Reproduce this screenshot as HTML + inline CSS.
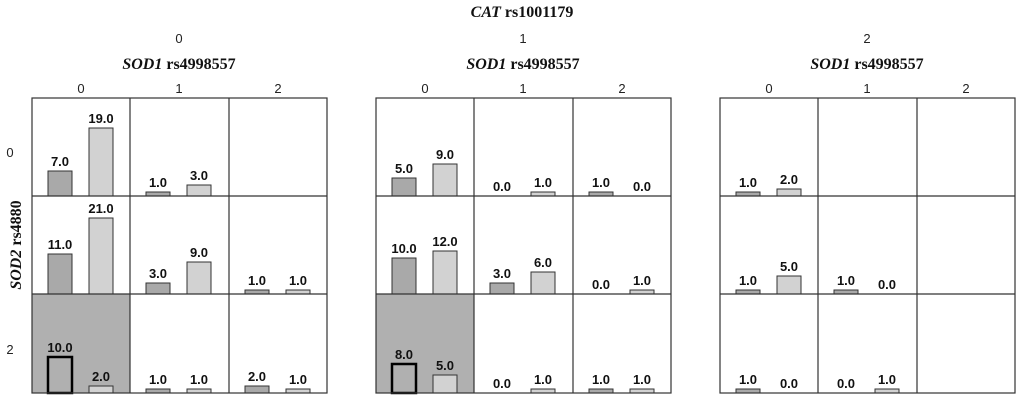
<!DOCTYPE html><html><head><meta charset="utf-8"><style>
body{margin:0;background:#fff}
svg{display:block}
.v{font:bold 13px "Liberation Sans",sans-serif;text-anchor:middle;fill:#111}
.t{font:13px "Liberation Sans",sans-serif;text-anchor:middle;fill:#222}
.h{font:bold 16px "Liberation Serif",serif;text-anchor:middle;fill:#111}
.d{fill:#a9a9a9;stroke:#333;stroke-width:1}
.l{fill:#d2d2d2;stroke:#333;stroke-width:1}
.k{fill:#b0b0b0;stroke:#000;stroke-width:2.5}
.g{fill:none;stroke:#333;stroke-width:1.2}
</style></head><body>
<svg width="1024" height="406" xmlns="http://www.w3.org/2000/svg">
<text class="h" x="522" y="17"><tspan font-style="italic">CAT</tspan> rs1001179</text>
<text class="t" x="179" y="43">0</text><text class="t" x="523" y="43">1</text><text class="t" x="867" y="43">2</text>
<text class="h" x="179" y="69"><tspan font-style="italic">SOD1</tspan> rs4998557</text>
<text class="h" x="523" y="69"><tspan font-style="italic">SOD1</tspan> rs4998557</text>
<text class="h" x="867" y="69"><tspan font-style="italic">SOD1</tspan> rs4998557</text>
<g class="t">
<text x="81" y="93">0</text><text x="179" y="93">1</text><text x="278" y="93">2</text>
<text x="425" y="93">0</text><text x="523" y="93">1</text><text x="622" y="93">2</text>
<text x="769" y="93">0</text><text x="867" y="93">1</text><text x="966" y="93">2</text>
<text x="10" y="157">0</text><text x="10" y="354">2</text>
</g>
<text class="h" transform="translate(21,245) rotate(-90)"><tspan font-style="italic">SOD2</tspan> rs4880</text>
<rect x="32" y="294" width="98" height="99" fill="#b0b0b0"/>
<rect x="376" y="294" width="98" height="99" fill="#b0b0b0"/>
<!-- P0 -->
<rect class="d" x="48" y="171" width="24" height="25"/><text class="v" x="60" y="166">7.0</text>
<rect class="l" x="89" y="128" width="24" height="68"/><text class="v" x="101" y="123">19.0</text>
<rect class="d" x="146" y="192" width="24" height="4"/><text class="v" x="158" y="187">1.0</text>
<rect class="l" x="187" y="185" width="24" height="11"/><text class="v" x="199" y="180">3.0</text>
<rect class="d" x="48" y="254" width="24" height="40"/><text class="v" x="60" y="249">11.0</text>
<rect class="l" x="89" y="218" width="24" height="76"/><text class="v" x="101" y="213">21.0</text>
<rect class="d" x="146" y="283" width="24" height="11"/><text class="v" x="158" y="278">3.0</text>
<rect class="l" x="187" y="262" width="24" height="32"/><text class="v" x="199" y="257">9.0</text>
<rect class="d" x="245" y="290" width="24" height="4"/><text class="v" x="257" y="285">1.0</text>
<rect class="l" x="286" y="290" width="24" height="4"/><text class="v" x="298" y="285">1.0</text>
<rect class="k" x="48" y="357" width="24" height="36"/><text class="v" x="60" y="352">10.0</text>
<rect class="l" x="89" y="386" width="24" height="7"/><text class="v" x="101" y="381">2.0</text>
<rect class="d" x="146" y="389" width="24" height="4"/><text class="v" x="158" y="384">1.0</text>
<rect class="l" x="187" y="389" width="24" height="4"/><text class="v" x="199" y="384">1.0</text>
<rect class="d" x="245" y="386" width="24" height="7"/><text class="v" x="257" y="381">2.0</text>
<rect class="l" x="286" y="389" width="24" height="4"/><text class="v" x="298" y="384">1.0</text>
<!-- P1 -->
<rect class="d" x="392" y="178" width="24" height="18"/><text class="v" x="404" y="173">5.0</text>
<rect class="l" x="433" y="164" width="24" height="32"/><text class="v" x="445" y="159">9.0</text>
<text class="v" x="502" y="191">0.0</text>
<rect class="l" x="531" y="192" width="24" height="4"/><text class="v" x="543" y="187">1.0</text>
<rect class="d" x="589" y="192" width="24" height="4"/><text class="v" x="601" y="187">1.0</text>
<text class="v" x="642" y="191">0.0</text>
<rect class="d" x="392" y="258" width="24" height="36"/><text class="v" x="404" y="253">10.0</text>
<rect class="l" x="433" y="251" width="24" height="43"/><text class="v" x="445" y="246">12.0</text>
<rect class="d" x="490" y="283" width="24" height="11"/><text class="v" x="502" y="278">3.0</text>
<rect class="l" x="531" y="272" width="24" height="22"/><text class="v" x="543" y="267">6.0</text>
<text class="v" x="601" y="289">0.0</text>
<rect class="l" x="630" y="290" width="24" height="4"/><text class="v" x="642" y="285">1.0</text>
<rect class="k" x="392" y="364" width="24" height="29"/><text class="v" x="404" y="359">8.0</text>
<rect class="l" x="433" y="375" width="24" height="18"/><text class="v" x="445" y="370">5.0</text>
<text class="v" x="502" y="388">0.0</text>
<rect class="l" x="531" y="389" width="24" height="4"/><text class="v" x="543" y="384">1.0</text>
<rect class="d" x="589" y="389" width="24" height="4"/><text class="v" x="601" y="384">1.0</text>
<rect class="l" x="630" y="389" width="24" height="4"/><text class="v" x="642" y="384">1.0</text>
<!-- P2 -->
<rect class="d" x="736" y="192" width="24" height="4"/><text class="v" x="748" y="187">1.0</text>
<rect class="l" x="777" y="189" width="24" height="7"/><text class="v" x="789" y="184">2.0</text>
<rect class="d" x="736" y="290" width="24" height="4"/><text class="v" x="748" y="285">1.0</text>
<rect class="l" x="777" y="276" width="24" height="18"/><text class="v" x="789" y="271">5.0</text>
<rect class="d" x="834" y="290" width="24" height="4"/><text class="v" x="846" y="285">1.0</text>
<text class="v" x="887" y="289">0.0</text>
<rect class="d" x="736" y="389" width="24" height="4"/><text class="v" x="748" y="384">1.0</text>
<text class="v" x="789" y="388">0.0</text>
<text class="v" x="846" y="388">0.0</text>
<rect class="l" x="875" y="389" width="24" height="4"/><text class="v" x="887" y="384">1.0</text>
<!-- grids -->
<g class="g">
<rect x="32" y="98" width="295" height="295"/><path d="M130 98V393M229 98V393M32 196H327M32 294H327"/>
<rect x="376" y="98" width="295" height="295"/><path d="M474 98V393M573 98V393M376 196H671M376 294H671"/>
<rect x="720" y="98" width="295" height="295"/><path d="M818 98V393M917 98V393M720 196H1015M720 294H1015"/>
</g>
</svg></body></html>
